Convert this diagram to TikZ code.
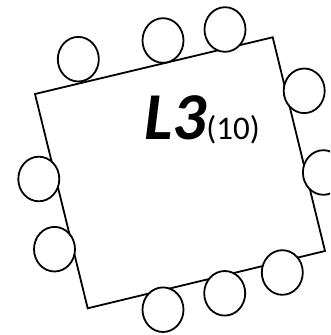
\documentclass[tikz,border=0pt]{standalone}
\usepackage{fontspec}
\setmainfont{Carlito}
\usetikzlibrary{shapes.geometric}
\begin{document}
\begin{tikzpicture}[x=1pt,y=1pt,
  edge/.style={draw=black,line width=1.8pt,line join=miter},
  pad/.style={ellipse,draw=black,fill=white,line width=1.8pt,minimum width=41pt,minimum height=44.6pt,inner sep=0pt}]
\useasboundingbox (0,0) rectangle (330,335);
\clip (0,0) rectangle (330,335);
\coordinate (tl) at (35,241);
\coordinate (tr) at (272.7,297.7);
\coordinate (br) at (325,84);
\coordinate (bl) at (87.7,26.7);
\draw[edge] (tl) -- (tr) -- (br) -- (bl) -- cycle;
\node[pad] (c1) at (78.3,275.8) {};
\node[pad] (c2) at (163,294.5) {};
\node[pad] (c3) at (225,305.5) {};
\node[pad] (c4) at (304.2,244.2) {};
\node[pad] (c5) at (323.4,162.5) {};
\node[pad] (c6) at (282.3,62.5) {};
\node[pad] (c7) at (224.7,41.7) {};
\node[pad] (c8) at (163,25.3) {};
\node[pad] (c9) at (54.5,85.8) {};
\node[pad] (c10) at (38.8,156) {};
\node[anchor=base west,inner sep=0pt] (lbl) at (144,195) {\fontsize{67}{67}\selectfont\bfseries\itshape L3\fontsize{33}{33}\selectfont\mdseries\upshape(10)};
\end{tikzpicture}
\end{document}
